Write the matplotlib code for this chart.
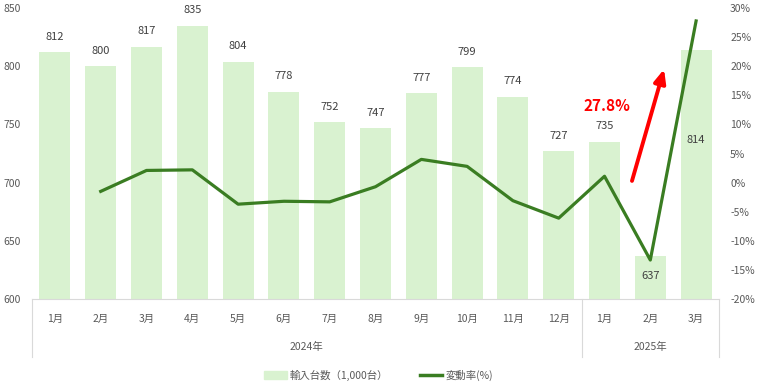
import matplotlib.pyplot as plt
from matplotlib.lines import Line2D
from matplotlib.patches import Patch

plt.rcParams['font.family'] = ['Noto Sans CJK JP', 'DejaVu Sans']

# data
months = ["1月", "2月", "3月", "4月", "5月", "6月", "7月", "8月", "9月", "10月", "11月", "12月", "1月", "2月", "3月"]
years = ["2024年", "2025年"]
year_counts = [12, 3]
imports = [812, 800, 817, 835, 804, 778, 752, 747, 777, 799, 774, 727, 735, 637, 814]
change = [None, -1.5, 2.1, 2.2, -3.7, -3.2, -3.3, -0.7, 4.0, 2.8, -3.1, -6.1, 1.1, -13.3, 27.8]

bar_color = "#d9f2d0"
line_color = "#3a7d22"
grey = "#595959"

fig = plt.figure(figsize=(7.57, 3.88), dpi=100)
ax = fig.add_axes([0.0423, 0.2294, 0.9075, 0.7496])
x = list(range(len(months)))
ax.bar(x, imports, width=0.68, color=bar_color, zorder=1)
ax.set_ylim(600, 850)
ax.set_xlim(-0.5, len(months) - 0.5)
ax.set_yticks(range(600, 851, 50))
ax.tick_params(axis='y', length=0, labelsize=7.5, colors=grey, pad=8)
ax.set_xticks([])
for s in ["top", "left", "right"]:
    ax.spines[s].set_visible(False)
ax.spines["bottom"].set_color("#d9d9d9")

# bar labels
for i, v in enumerate(imports):
    if i == 13:
        ax.text(i, 620, str(v), ha="center", va="center", fontsize=8, color="#404040")
    elif i == 14:
        ax.text(i, 737, str(v), ha="center", va="center", fontsize=8, color="#404040")
    else:
        ax.text(i, v + 9, str(v), ha="center", va="bottom", fontsize=8, color="#404040")

ax2 = ax.twinx()
xs = [i for i, c in enumerate(change) if c is not None]
ys = [c for c in change if c is not None]
ax2.plot(xs, ys, color=line_color, lw=2.3, zorder=3)
ax2.set_ylim(-20, 30)
ax2.set_yticks(range(-20, 31, 5))
ax2.set_yticklabels([f"{t}%" for t in range(-20, 31, 5)])
ax2.tick_params(axis='y', length=0, labelsize=7.5, colors=grey, pad=8)
for s in ["top", "left", "right", "bottom"]:
    ax2.spines[s].set_visible(False)

ax2.annotate("", xy=(13.3, 19.5), xytext=(12.6, 0.3),
             arrowprops=dict(arrowstyle="-|>,head_width=0.35,head_length=0.8",
                             color="#ff0000", lw=2.8, shrinkA=0, shrinkB=0))
ax2.text(12.05, 13.2, "27.8%", color="#ff0000", fontsize=11, fontweight="bold",
         ha="center", va="center")

# multi-level category axis
trans = ax.get_xaxis_transform()
for i, m in enumerate(months):
    ax.text(i, -0.07, m, transform=trans, ha="center", va="center", fontsize=7.5, color=grey)
start = 0
edges = [-0.5]
for yname, n in zip(years, year_counts):
    mid = start + (n - 1) / 2
    ax.text(mid, -0.165, yname, transform=trans, ha="center", va="center", fontsize=7.5, color=grey)
    start += n
    edges.append(start - 0.5)
for e in edges:
    ax.add_line(Line2D([e, e], [0, -0.2], transform=trans, color="#d9d9d9", lw=0.8, clip_on=False))

handles = [Patch(color=bar_color, label="輸入台数（1,000台）"),
           Line2D([], [], color=line_color, lw=2.5, label="変動率(%)")]
fig.legend(handles=handles, loc="center", bbox_to_anchor=(0.5, 0.033), ncol=2, frameon=False,
           fontsize=7.5, labelcolor=grey, handlelength=2.2, columnspacing=3, handletextpad=0.3)

fig.savefig("out.png", dpi=100)
